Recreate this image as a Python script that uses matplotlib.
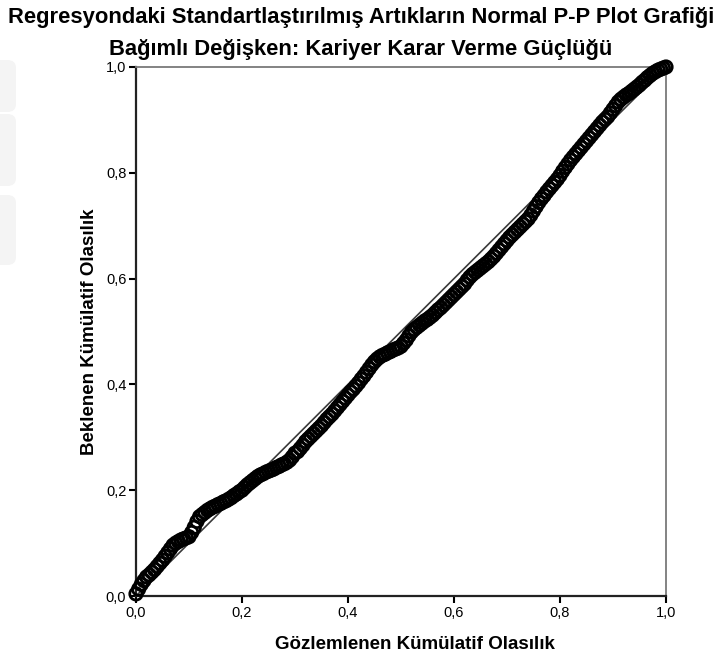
import matplotlib
matplotlib.use("Agg")
import matplotlib.pyplot as plt
from matplotlib.patches import FancyBboxPatch

# ================= data =================
title = "Regresyondaki Standartlaştırılmış Artıkların Normal P-P Plot Grafiği"
subtitle = "Bağımlı Değişken: Kariyer Karar Verme Güçlüğü"
x_label = "Gözlemlenen Kümülatif Olasılık"
y_label = "Beklenen Kümülatif Olasılık"

tick_values = [0.0, 0.2, 0.4, 0.6, 0.8, 1.0]
tick_labels = ["0,0", "0,2", "0,4", "0,6", "0,8", "1,0"]

observed_cum = [
    0.000, 0.005, 0.010, 0.015, 0.020, 0.025, 0.030, 0.035, 0.040, 0.045,
    0.050, 0.055, 0.060, 0.065, 0.070, 0.075, 0.080, 0.085, 0.090, 0.095,
    0.100, 0.105, 0.110, 0.115, 0.120, 0.125, 0.130, 0.135, 0.140, 0.145,
    0.150, 0.155, 0.160, 0.165, 0.170, 0.175, 0.180, 0.185, 0.190, 0.195,
    0.200, 0.205, 0.210, 0.215, 0.220, 0.225, 0.230, 0.235, 0.240, 0.245,
    0.250, 0.255, 0.260, 0.265, 0.270, 0.275, 0.280, 0.285, 0.290, 0.295,
    0.300, 0.305, 0.310, 0.315, 0.320, 0.325, 0.330, 0.335, 0.340, 0.345,
    0.350, 0.355, 0.360, 0.365, 0.370, 0.375, 0.380, 0.385, 0.390, 0.395,
    0.400, 0.405, 0.410, 0.415, 0.420, 0.425, 0.430, 0.435, 0.440, 0.445,
    0.450, 0.455, 0.460, 0.465, 0.470, 0.475, 0.480, 0.485, 0.490, 0.495,
    0.500, 0.505, 0.510, 0.515, 0.520, 0.525, 0.530, 0.535, 0.540, 0.545,
    0.550, 0.555, 0.560, 0.565, 0.570, 0.575, 0.580, 0.585, 0.590, 0.595,
    0.600, 0.605, 0.610, 0.615, 0.620, 0.625, 0.630, 0.635, 0.640, 0.645,
    0.650, 0.655, 0.660, 0.665, 0.670, 0.675, 0.680, 0.685, 0.690, 0.695,
    0.700, 0.705, 0.710, 0.715, 0.720, 0.725, 0.730, 0.735, 0.740, 0.745,
    0.750, 0.755, 0.760, 0.765, 0.770, 0.775, 0.780, 0.785, 0.790, 0.795,
    0.800, 0.805, 0.810, 0.815, 0.820, 0.825, 0.830, 0.835, 0.840, 0.845,
    0.850, 0.855, 0.860, 0.865, 0.870, 0.875, 0.880, 0.885, 0.890, 0.895,
    0.900, 0.905, 0.910, 0.915, 0.920, 0.925, 0.930, 0.935, 0.940, 0.945,
    0.950, 0.955, 0.960, 0.965, 0.970, 0.975, 0.980, 0.985, 0.990, 0.995,
    1.000,
]
expected_cum = [
    0.004, 0.013, 0.022, 0.029, 0.036, 0.040, 0.045, 0.050, 0.056, 0.062,
    0.068, 0.075, 0.082, 0.089, 0.096, 0.100, 0.103, 0.106, 0.108, 0.110,
    0.112, 0.120, 0.130, 0.141, 0.150, 0.154, 0.158, 0.162, 0.165, 0.168,
    0.170, 0.173, 0.175, 0.178, 0.180, 0.183, 0.186, 0.190, 0.193, 0.197,
    0.200, 0.205, 0.210, 0.214, 0.218, 0.222, 0.226, 0.229, 0.231, 0.234,
    0.236, 0.238, 0.240, 0.243, 0.245, 0.248, 0.250, 0.253, 0.257, 0.263,
    0.270, 0.273, 0.279, 0.285, 0.292, 0.297, 0.302, 0.307, 0.312, 0.317,
    0.322, 0.328, 0.334, 0.339, 0.344, 0.350, 0.356, 0.362, 0.368, 0.374,
    0.380, 0.386, 0.391, 0.397, 0.403, 0.410, 0.416, 0.423, 0.430, 0.437,
    0.443, 0.448, 0.452, 0.455, 0.457, 0.460, 0.462, 0.465, 0.467, 0.469,
    0.472, 0.478, 0.484, 0.492, 0.499, 0.504, 0.508, 0.512, 0.516, 0.520,
    0.523, 0.527, 0.531, 0.536, 0.541, 0.545, 0.550, 0.555, 0.560, 0.565,
    0.570, 0.575, 0.580, 0.585, 0.590, 0.597, 0.603, 0.608, 0.612, 0.616,
    0.620, 0.624, 0.628, 0.632, 0.637, 0.642, 0.648, 0.654, 0.660, 0.666,
    0.672, 0.678, 0.683, 0.688, 0.693, 0.698, 0.703, 0.708, 0.713, 0.720,
    0.728, 0.736, 0.744, 0.751, 0.757, 0.764, 0.770, 0.776, 0.782, 0.788,
    0.795, 0.803, 0.810, 0.817, 0.824, 0.830, 0.836, 0.842, 0.848, 0.854,
    0.860, 0.866, 0.872, 0.878, 0.884, 0.890, 0.896, 0.901, 0.906, 0.913,
    0.920, 0.927, 0.934, 0.939, 0.943, 0.947, 0.950, 0.954, 0.958, 0.962,
    0.966, 0.971, 0.975, 0.980, 0.984, 0.988, 0.991, 0.994, 0.996, 0.998,
    1.000,
]

# ================= figure =================
plt.rcParams['font.family'] = ['Liberation Sans', 'DejaVu Sans']

fig = plt.figure(figsize=(7.16, 6.64), dpi=100)
ax = fig.add_axes([136 / 716, 1 - 596 / 664, 530 / 716, 529 / 664])

# faint grey shapes at the left edge
for y0, h in [(60, 52), (114, 72), (195, 70)]:
    fig.patches.append(FancyBboxPatch(
        (-8 / 716, 1 - (y0 + h) / 664), 24 / 716, h / 664,
        boxstyle="round,pad=0,rounding_size=0.012",
        transform=fig.transFigure, facecolor='#f4f4f4', edgecolor='none', zorder=0))

# reference diagonal
ax.plot([0, 1], [0, 1], color='#3a3a3a', lw=1.2, zorder=2)

# points
ax.scatter(observed_cum, expected_cum, s=80, facecolors='none',
           edgecolors='black', linewidths=2.0, zorder=3, clip_on=False)

ax.set_xlim(0, 1)
ax.set_ylim(0, 1)
ax.set_xticks(tick_values)
ax.set_xticklabels(tick_labels)
ax.set_yticks(tick_values)
ax.set_yticklabels(tick_labels)
ax.tick_params(axis='both', length=5, width=1.5, labelsize=10.5, pad=2, colors='black')

for side in ['left', 'bottom']:
    ax.spines[side].set_linewidth(1.6)
    ax.spines[side].set_color('#222222')
for side in ['top', 'right']:
    ax.spines[side].set_linewidth(1.3)
    ax.spines[side].set_color('#7a7a7a')

ax.set_xlabel(x_label, fontsize=13.5, fontweight='bold', labelpad=12)
ax.xaxis.set_label_coords(0.526, -0.075)
ax.set_ylabel(y_label, fontsize=13.5, fontweight='bold', labelpad=14)
ax.yaxis.set_label_coords(-0.071, 0.5)

fig.text(0.504, 1 - 18 / 664, title, ha='center', va='center',
         fontsize=15.8, fontweight='bold')
fig.text(0.503, 1 - 50 / 664, subtitle, ha='center', va='center',
         fontsize=15.8, fontweight='bold')

fig.savefig("out.png", dpi=100)
